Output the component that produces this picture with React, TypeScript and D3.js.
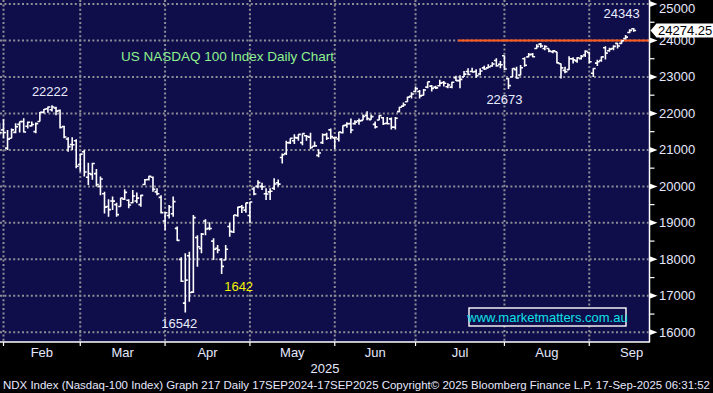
import React, { useRef, useEffect } from 'react'
import * as d3 from 'd3'

// trading sessions shown, per month (Jan 30 .. Sep 16 2025)
const monthNames = ['Jan', 'Feb', 'Mar', 'Apr', 'May', 'Jun', 'Jul', 'Aug', 'Sep']
const tradingDays = [
  [30, 31],
  [3, 4, 5, 6, 7, 10, 11, 12, 13, 14, 18, 19, 20, 21, 24, 25, 26, 27, 28],
  [3, 4, 5, 6, 7, 10, 11, 12, 13, 14, 17, 18, 19, 20, 21, 24, 25, 26, 27, 28, 31],
  [1, 2, 3, 4, 7, 8, 9, 10, 11, 14, 15, 16, 17, 21, 22, 23, 24, 25, 28, 29, 30],
  [1, 2, 5, 6, 7, 8, 9, 12, 13, 14, 15, 16, 19, 20, 21, 22, 23, 27, 28, 29, 30],
  [2, 3, 4, 5, 6, 9, 10, 11, 12, 13, 16, 17, 18, 20, 23, 24, 25, 26, 27, 30],
  [1, 2, 3, 7, 8, 9, 10, 11, 14, 15, 16, 17, 18, 21, 22, 23, 24, 25, 28, 29, 30, 31],
  [1, 4, 5, 6, 7, 8, 11, 12, 13, 14, 15, 18, 19, 20, 21, 22, 25, 26, 27, 28, 29],
  [2, 3, 4, 5, 8, 9, 10, 11, 12, 15, 16],
]
const lastMonthSessions = 21 // full September, for centring its label

const opens = [
  21600, 21550,
  21050, 21320, 21480, 21700, 21780, 21650, 21660, 21500, 21780, 22030, 22130, 22100, 22150, 22080, 21640, 21300, 21150, 21250, 20600,
  20950, 20250, 20330, 20350, 20000, 19800, 19450, 19600, 19500, 19450, 19650, 19620, 19550, 19600, 19500, 20050, 20190, 20250, 19850, 19700, 19050,
  19200, 19250, 18850, 18000, 16800, 18100, 17100, 18600, 18300, 19050, 18850, 18500, 18300, 18000, 17980, 18900, 18750, 19200, 19440, 19350, 19200,
  19930, 20000, 20000, 19800, 19850, 19950, 20100, 20790, 20900, 21200, 21250, 21330, 21200, 21390, 21350, 21100, 20850, 21200, 21420, 21550, 21330,
  21300, 21470, 21680, 21720, 21720, 21800, 21810, 21950, 21830, 21700, 21820, 21880, 21730, 21850, 21620, 22050, 22200, 22320, 22470, 22600,
  22600, 22500, 22720, 22750, 22720, 22760, 22850, 22730, 22720, 22980, 22900, 23000, 23150, 23150, 23150, 23080, 23250, 23250, 23300, 23450, 23350, 23580,
  22950, 23000, 23200, 23050, 23500, 23550, 23620, 23780, 23900, 23780, 23780, 23690, 23690, 23360, 23180, 23200, 23500, 23440, 23500, 23600, 23670,
  23100, 23380, 23450, 23800, 23720, 23780, 23920, 23920, 24050, 24220, 24320,
]
const highs = [
  21740, 21840,
  21545, 21590, 21730, 21780, 21870, 21780, 21780, 21750, 22040, 22120, 22190, 22222, 22180, 22110, 21660, 21350, 21350, 21290, 20900,
  21000, 20650, 20650, 20480, 20270, 19850, 19650, 19720, 19550, 19690, 19920, 19650, 19900, 19830, 19770, 20200, 20290, 20270, 19950, 19760, 19300,
  19490, 19720, 18900, 18060, 18170, 18210, 19215, 18660, 18720, 19100, 19020, 18580, 18390, 18030, 18390, 19000, 19215, 19440, 19490, 19550, 19580,
  19990, 20170, 20100, 19950, 19950, 20220, 20190, 20900, 21250, 21320, 21430, 21430, 21450, 21410, 21470, 21230, 21020, 21450, 21470, 21590, 21360,
  21500, 21670, 21760, 21860, 21810, 21860, 21970, 22060, 21970, 21780, 21950, 21900, 21900, 21890, 21900, 22180, 22300, 22460, 22580, 22740,
  22640, 22670, 22870, 22780, 22760, 22920, 22890, 22830, 22870, 23030, 23050, 23160, 23240, 23250, 23210, 23240, 23310, 23350, 23400, 23510, 23440, 23590,
  22980, 23240, 23280, 23330, 23540, 23660, 23660, 23900, 23930, 23870, 23780, 23730, 23690, 23370, 23280, 23570, 23540, 23540, 23600, 23730, 23690,
  23240, 23470, 23560, 23840, 23800, 23870, 23930, 24000, 24150, 24310, 24343,
]
const lows = [
  21400, 21320,
  21000, 21320, 21460, 21480, 21480, 21590, 21640, 21460, 21780, 22000, 22020, 22050, 21950, 21590, 21320, 20950, 21000, 20500, 20400,
  20270, 20040, 20180, 20000, 19760, 19260, 19170, 19350, 19170, 19450, 19630, 19400, 19540, 19540, 19440, 20040, 20160, 19850, 19760, 19260, 18800,
  19120, 19170, 18500, 17380, 16542, 16840, 17080, 17800, 18170, 18660, 18800, 17980, 18170, 17600, 17980, 18620, 18720, 19170, 19270, 19280, 18990,
  19760, 19950, 19900, 19630, 19630, 19900, 20000, 20630, 20860, 21160, 21160, 21250, 21130, 21250, 21020, 21090, 20800, 21160, 21270, 21290, 21020,
  21230, 21450, 21610, 21460, 21690, 21690, 21810, 21810, 21830, 21590, 21810, 21680, 21700, 21560, 21560, 22030, 22180, 22320, 22410, 22580,
  22410, 22490, 22690, 22600, 22670, 22740, 22740, 22690, 22690, 22890, 22690, 23000, 23050, 23130, 22980, 23050, 23190, 23240, 23280, 23280, 23240, 23190,
  22673, 22990, 22950, 23050, 23280, 23540, 23540, 23770, 23800, 23730, 23680, 23650, 23370, 22960, 23100, 23190, 23370, 23390, 23480, 23550, 23370,
  23000, 23300, 23420, 23480, 23690, 23730, 23780, 23910, 24030, 24200, 24240,
]
const closes = [
  21470, 21478,
  21297, 21549, 21636, 21776, 21491, 21758, 21695, 21720, 22031, 22114, 22176, 22175, 22062, 21614, 21353, 21089, 21142, 20551, 20884,
  20395, 20353, 20627, 20052, 20202, 19431, 19364, 19596, 19225, 19680, 19835, 19488, 19736, 19677, 19754, 20180, 20280, 19917, 19799, 19281, 19278,
  19436, 19583, 18521, 17398, 17431, 17090, 19145, 18344, 18690, 18830, 18846, 18278, 18258, 17808, 18276, 18767, 19214, 19432, 19419, 19547, 19571,
  19790, 20103, 19991, 19792, 19868, 20064, 20062, 20869, 21196, 21320, 21336, 21427, 21447, 21367, 21067, 21112, 20915, 21414, 21318, 21364, 21341,
  21492, 21665, 21717, 21547, 21762, 21797, 21914, 21860, 21913, 21631, 21941, 21719, 21719, 21626, 21870, 22170, 22238, 22447, 22534, 22679,
  22480, 22641, 22867, 22686, 22700, 22830, 22829, 22780, 22856, 22900, 22935, 23077, 23066, 23134, 23032, 23162, 23219, 23272, 23356, 23308, 23336, 23218,
  22763, 23229, 22970, 23251, 23321, 23611, 23555, 23839, 23849, 23833, 23713, 23714, 23385, 23250, 23143, 23499, 23467, 23525, 23565, 23704, 23415,
  23231, 23415, 23550, 23653, 23762, 23839, 23849, 23993, 24093, 24276, 24274,
]

const priceTicks = [16000, 17000, 18000, 19000, 20000, 21000, 22000, 23000, 24000, 25000]
const lastPrice = 24274.25
const resistanceLevel = 24000
const resistanceFrom = 'Jul 15'

// price callouts: text, session, which end of the bar
const callouts = [
  { text: '22222', day: 'Feb 19', at: 'high', color: '#e8ecff' },
  { text: '16542', day: 'Apr 7', at: 'low', color: '#e8ecff' },
  { text: '1642', day: 'Apr 21', at: 'low', color: '#f2f200' },
  { text: '22673', day: 'Aug 1', at: 'low', color: '#e8ecff' },
  { text: '24343', day: 'Sep 16', at: 'high', color: '#e8ecff' },
]
const calloutShift = { '22222': [-2, -9], '16542': [-6, 15], '1642': [17, 17], '22673': [-4, 15], '24343': [-12, -10] }

const footer = 'NDX Index (Nasdaq-100 Index) Graph 217  Daily 17SEP2024-17SEP2025  Copyright\u00A9 2025 Bloomberg Finance L.P.  17-Sep-2025 06:31:52'

export default function App() {
  const ref = useRef(null)

  useEffect(() => {
    const svg = d3.select(ref.current)
    svg.selectAll('*').remove()

    const plotRight = 649.5
    const plotBottom = 342
    const font = 'Liberation Sans, Arial, sans-serif'
    const textCol = '#e6e8ff'
    const gridCol = '#8e8e96'
    const navy = '#0f0d4a'

    // flatten sessions
    const sessions = []
    tradingDays.forEach((days, m) => days.forEach(d => sessions.push({ m, d })))
    const n = sessions.length
    const bars = sessions.map((s, i) => ({ ...s, i, o: opens[i], h: highs[i], l: lows[i], c: closes[i] }))
    const dayIndex = (label) => {
      const [mn, dd] = label.split(' ')
      return sessions.findIndex(s => monthNames[s.m] === mn && s.d === +dd)
    }

    const x = d3.scaleLinear().domain([1, n - 1]).range([3.5, 633.7])
    const step = x(1) - x(0)
    const y = d3.scaleLinear().domain([16000, 25000]).range([332.3, 4])

    // month boundaries
    const monthStarts = []
    for (let m = 1; m < tradingDays.length; m++) {
      monthStarts.push({ m, i: sessions.findIndex(s => s.m === m) })
    }
    const boundaries = monthStarts.map(ms => ({ ...ms, bx: x(ms.i - 1) }))

    svg.append('rect').attr('width', 713).attr('height', 393).attr('fill', '#000')
    svg.append('rect').attr('x', 0).attr('y', 0).attr('width', plotRight).attr('height', plotBottom).attr('fill', navy)

    svg.append('clipPath').attr('id', 'plotclip')
      .append('rect').attr('x', 0).attr('y', 0).attr('width', plotRight).attr('height', plotBottom)

    const grid = svg.append('g').attr('stroke', gridCol).attr('stroke-width', 2).attr('stroke-dasharray', '2,2.4')
    grid.selectAll('line.h').data(priceTicks).enter().append('line')
      .attr('x1', 0).attr('x2', plotRight - 1).attr('y1', d => y(d)).attr('y2', d => y(d))
    grid.selectAll('line.v').data(boundaries).enter().append('line')
      .attr('x1', d => d.bx).attr('x2', d => d.bx).attr('y1', 0).attr('y2', plotBottom)

    // resistance line
    svg.append('line')
      .attr('x1', x(dayIndex(resistanceFrom) + 0.5)).attr('x2', plotRight)
      .attr('y1', y(resistanceLevel)).attr('y2', y(resistanceLevel))
      .attr('stroke', '#ff5c1c').attr('stroke-width', 2)

    // OHLC bars
    const g = svg.append('g').attr('clip-path', 'url(#plotclip)')
      .attr('stroke', '#fff').attr('stroke-width', 1.6).attr('fill', 'none')
    const t = 2.4
    g.selectAll('path').data(bars).enter().append('path')
      .attr('d', b => {
        const bx = x(b.i)
        return `M${bx},${y(b.h)}V${y(b.l)}M${bx - t},${y(b.o)}H${bx}M${bx},${y(b.c)}H${bx + t}`
      })

    // title
    svg.append('text').attr('x', 121).attr('y', 61)
      .attr('font-family', font).attr('font-size', 13.5).attr('fill', '#8ef08e')
      .text('US NASDAQ 100 Index Daily Chart')

    // callouts
    callouts.forEach(c => {
      const i = dayIndex(c.day)
      const v = c.at === 'high' ? highs[i] : lows[i]
      const [dx, dy] = calloutShift[c.text]
      svg.append('text').attr('x', x(i) + dx).attr('y', y(v) + dy)
        .attr('text-anchor', 'middle').attr('font-family', font).attr('font-size', 13)
        .attr('fill', c.color).text(c.text)
    })

    // watermark
    const wm = svg.append('g')
    wm.append('rect').attr('x', 469).attr('y', 308).attr('width', 157).attr('height', 18)
      .attr('fill', navy).attr('stroke', '#fff').attr('stroke-width', 1.4)
    wm.append('text').attr('x', 547.5).attr('y', 321.5).attr('text-anchor', 'middle')
      .attr('font-family', font).attr('font-size', 13).attr('fill', '#10e0e8')
      .text('www.marketmatters.com.au')

    // axes frame
    svg.append('line').attr('x1', plotRight).attr('x2', plotRight).attr('y1', 0).attr('y2', plotBottom + 0.5)
      .attr('stroke', '#fff').attr('stroke-width', 1.5)
    svg.append('line').attr('x1', 0).attr('x2', plotRight).attr('y1', plotBottom).attr('y2', plotBottom)
      .attr('stroke', '#fff').attr('stroke-width', 1.5)

    // right axis
    const ra = svg.append('g')
    ra.selectAll('polygon').data(priceTicks).enter().append('polygon')
      .attr('points', d => `${plotRight},${y(d) - 3} ${plotRight + 8},${y(d)} ${plotRight},${y(d) + 3}`)
      .attr('fill', '#fff')
    ra.selectAll('line').data(priceTicks.slice(0, -1).map(d => d + 500)).enter().append('line')
      .attr('x1', plotRight).attr('x2', plotRight + 5).attr('y1', d => y(d)).attr('y2', d => y(d))
      .attr('stroke', '#fff').attr('stroke-width', 1.2)
    ra.selectAll('text').data(priceTicks).enter().append('text')
      .attr('x', 659).attr('y', d => Math.max(y(d) + 4.5, 13))
      .attr('font-family', font).attr('font-size', 13).attr('fill', textCol)
      .text(d => d)

    // last price tag
    const ly = y(lastPrice)
    svg.append('polygon')
      .attr('points', `${plotRight + 1},${ly} ${plotRight + 7},${ly - 7} 713,${ly - 7} 713,${ly + 7} ${plotRight + 7},${ly + 7}`)
      .attr('fill', '#fff')
    svg.append('text').attr('x', 658).attr('y', ly + 4.5)
      .attr('font-family', font).attr('font-size', 13).attr('fill', '#000')
      .text(lastPrice.toFixed(2))

    // bottom axis
    svg.selectAll('line.mt').data(boundaries).enter().append('line')
      .attr('x1', d => d.bx).attr('x2', d => d.bx).attr('y1', plotBottom).attr('y2', plotBottom + 4)
      .attr('stroke', '#fff').attr('stroke-width', 1.2)
    boundaries.forEach((b, k) => {
      const next = k < boundaries.length - 1 ? boundaries[k + 1].bx : b.bx + lastMonthSessions * step
      svg.append('text').attr('x', (b.bx + next) / 2).attr('y', 357)
        .attr('text-anchor', 'middle').attr('font-family', font).attr('font-size', 13).attr('fill', textCol)
        .text(monthNames[b.m])
    })
    svg.append('text').attr('x', 325).attr('y', 373).attr('text-anchor', 'middle')
      .attr('font-family', font).attr('font-size', 13).attr('fill', textCol).text('2025')

    svg.append('text').attr('x', 3).attr('y', 389)
      .attr('font-family', font).attr('font-size', 11.5).attr('fill', textCol)
      .attr('textLength', 707).attr('lengthAdjust', 'spacingAndGlyphs')
      .text(footer)
  }, [])

  return (
    <svg ref={ref} width={713} height={393}
      style={{ position: 'absolute', left: 0, top: 0, display: 'block' }} />
  )
}
